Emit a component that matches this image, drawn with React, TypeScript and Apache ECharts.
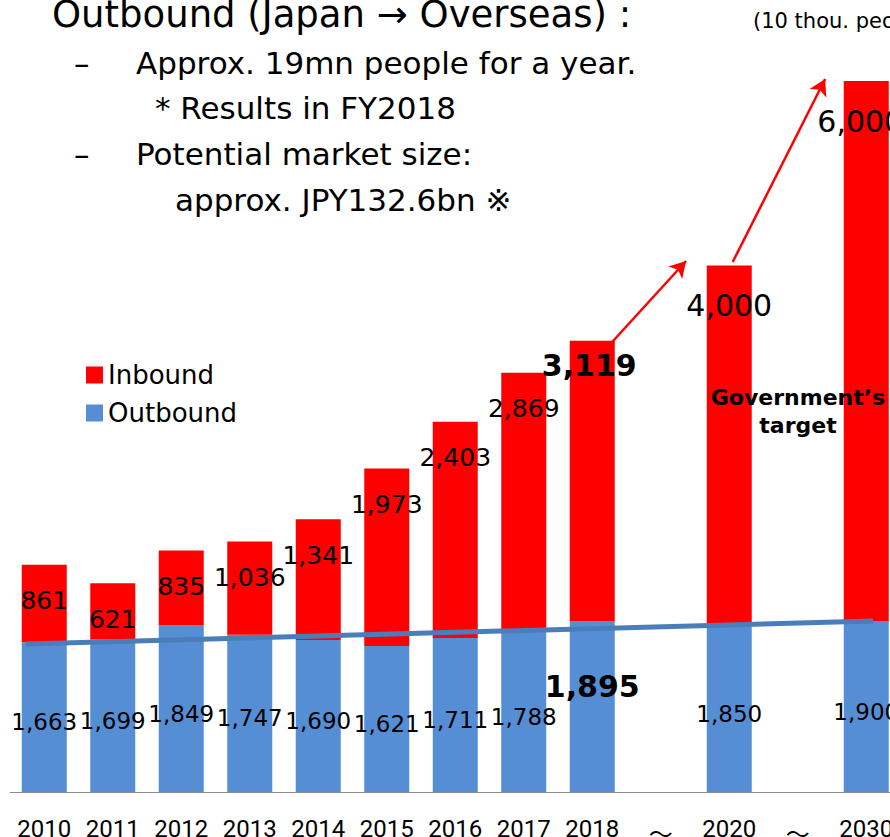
import React, { useEffect, useRef } from 'react';
import * as echarts from 'echarts';

const categories = ['2010', '2011', '2012', '2013', '2014', '2015', '2016', '2017', '2018', '〜', '2020', '〜', '2030'];
const outbound: (number | null)[] = [1663, 1699, 1849, 1747, 1690, 1621, 1711, 1788, 1895, null, 1850, null, 1900];
const inbound: (number | null)[] = [861, 621, 835, 1036, 1341, 1973, 2403, 2869, 3119, null, 4000, null, 6000];
// trend line of outbound, read at its two ends (x in category-index units)
const trendX = [0.23, 12.6];
const trendY = [1644, 1900];
// growth arrows (x in category-index units, y in 10 thou. people)
const arrowFrom = [[8.79, 5000], [10.55, 5889]];
const arrowTo = [[9.87, 5900], [11.9, 7922]];

const FONT = '"DejaVu Sans", Verdana, sans-serif';

const fmt = (p: any) => (p.value == null ? '' : Number(p.value).toLocaleString('en-US'));

export default function App() {
  const ref = useRef<HTMLDivElement>(null);
  useEffect(() => {
    if (!ref.current) return;
    const chart = echarts.init(ref.current, undefined, { renderer: 'svg' });

    const outData = outbound.map((v, i) =>
      categories[i] === '2018' && v != null
        ? { value: v, label: { fontWeight: 'bold', fontSize: 30, position: ['50%', 65], offset: [0, 0] } }
        : v
    );
    const inData = inbound.map((v, i) => {
      if (v == null) return v;
      if (categories[i] === '2018') return { value: v, label: { fontWeight: 'bold', fontSize: 30, position: ['50%', 25], offset: [-3, 0] } };
      if (categories[i] === '2020') return { value: v, label: { fontSize: 30, position: ['50%', 40] } };
      if (categories[i] === '2030') return { value: v, label: { fontSize: 30, position: ['50%', 43], offset: [-6, -3] } };
      return v;
    });

    const text = (t: string, x: number, y: number, size: number, extra: any = {}) => ({
      type: 'text',
      x,
      y,
      z: 100,
      silent: true,
      style: { text: t, fontSize: size, fontFamily: FONT, fill: '#000', align: 'left', verticalAlign: 'middle', ...extra },
    });

    chart.setOption({
      animation: false,
      backgroundColor: '#fff',
      grid: { left: 10, right: -10.5, top: 72, bottom: 45, containLabel: false, outerBoundsMode: 'none' },
      legend: {
        data: ['Inbound', 'Outbound'],
        orient: 'vertical',
        left: 86,
        top: 362,
        padding: 0,
        icon: 'rect',
        itemWidth: 17,
        itemHeight: 17,
        itemGap: 12,
        textStyle: { fontSize: 26, fontFamily: FONT, color: '#000' },
        selectedMode: false,
      },
      xAxis: [
        {
          type: 'category',
          data: categories,
          axisLine: { lineStyle: { color: '#8c8c8c', width: 1 } },
          axisTick: { length: 8, lineStyle: { color: '#8c8c8c' } },
          axisLabel: {
            interval: 0,
            margin: 25,
            fontSize: 24,
            fontFamily: 'Roboto, sans-serif',
            color: '#000',
            formatter: (v: string) => (v === '〜' ? '{g|〜}' : v),
            rich: { g: { fontSize: 24, fontFamily: '"Noto Sans CJK JP", sans-serif', padding: [3, 0, 0, 0], color: '#000' } },
          },
        },
        { type: 'value', min: 0, max: 13, show: false },
      ],
      yAxis: { type: 'value', min: 0, max: 8000, show: false, splitLine: { show: false } },
      series: [
        {
          name: 'Outbound',
          type: 'bar',
          stack: 'total',
          barWidth: 45,
          itemStyle: { color: '#558ED5' },
          label: {
            show: true,
            position: 'inside',
            offset: [0, 5],
            fontSize: 23,
            fontFamily: FONT,
            color: '#000',
            align: 'center',
            verticalAlign: 'middle',
            formatter: fmt,
          },
          data: outData,
        },
        {
          name: 'Inbound',
          type: 'bar',
          stack: 'total',
          barWidth: 45,
          itemStyle: { color: '#FF0000' },
          label: {
            show: true,
            position: ['50%', 36],
            fontSize: 25,
            fontFamily: FONT,
            color: '#000',
            align: 'center',
            verticalAlign: 'middle',
            formatter: fmt,
          },
          data: inData,
        },
        {
          name: 'Trend',
          type: 'line',
          xAxisIndex: 1,
          symbol: 'none',
          silent: true,
          z: 5,
          lineStyle: { color: '#4A7EBB', width: 5 },
          data: trendX.map((x, i) => [x, trendY[i]]),
          markLine: {
            silent: true,
            symbol: ['none', 'arrow'],
            symbolSize: [14, 16],
            label: { show: false },
            lineStyle: { color: '#FF0000', width: 2.5, type: 'solid' },
            data: arrowFrom.map((f, i) => [{ coord: f }, { coord: arrowTo[i] }]),
          },
        },
      ],
      graphic: [
        text('Outbound (Japan → Overseas) :', 52, 14, 37),
        text('–', 74, 63, 31),
        text('Approx. 19mn people for a year.', 136, 63, 31),
        text('* Results in FY2018', 155, 108, 31),
        text('–', 74, 154, 31),
        text('Potential market size:', 136, 154, 31),
        text('approx. JPY132.6bn ※', 175, 200, 31),
        text('(10 thou. people)', 753, 21, 21),
        text('Government’s\ntarget', 798, 411, 22, { fontWeight: 'bold', align: 'center', lineHeight: 28 }),
      ],
    });
    return () => chart.dispose();
  }, []);
  return <div ref={ref} style={{ position: 'absolute', left: 0, top: 0, width: 890, height: 837 }} />;
}
